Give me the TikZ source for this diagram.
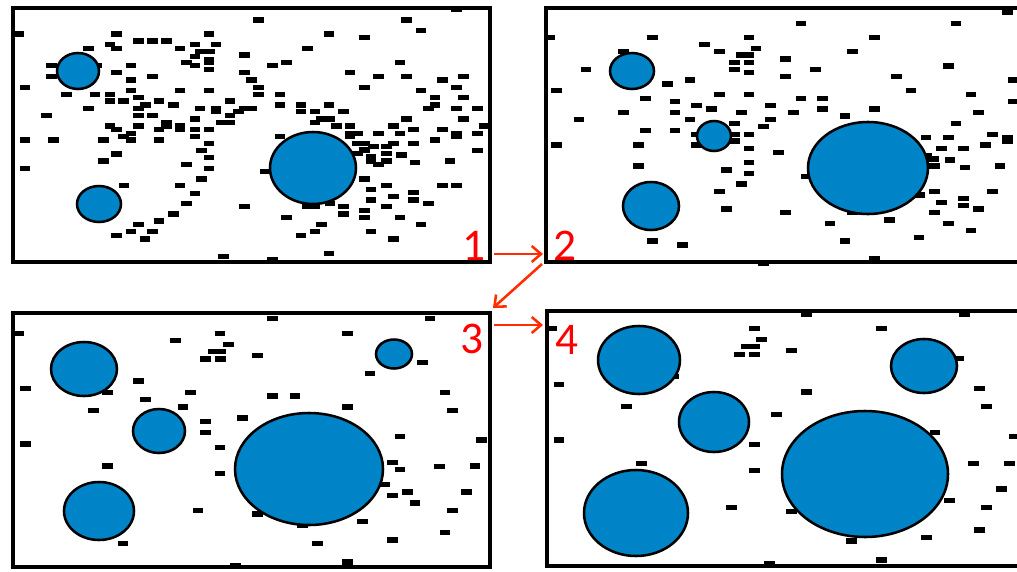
\documentclass[tikz,border=0pt]{standalone}
\usepackage{fontspec}
\setmainfont{Carlito}
\usetikzlibrary{arrows.meta}
\definecolor{cblue}{RGB}{0,132,200}
\definecolor{lred}{RGB}{255,0,0}
\definecolor{ared}{RGB}{255,45,0}
\newcommand\mydashes[3]{\foreach \a/\b in {#3} {\fill ({\a/3+#1-5.3},{\b/3+#2-2.6}) rectangle ++(10.6,5.2);}}
\tikzset{
  panel/.style={draw=black,line width=2.4pt},
  blob/.style={draw=black,line width=1.9pt,fill=cblue},
  lab/.style={text=lred,font=\fontsize{34}{34}\selectfont,inner sep=0pt},
  conn/.style={draw=ared,line width=1.9pt,-{Straight Barb[length=7pt,width=12pt,line width=1.9pt]}}
}
\begin{document}
\begin{tikzpicture}[x=0.75pt,y=-0.75pt]
\useasboundingbox (0,0) rectangle (1017,571);
\clip (0,0) rectangle (1017,571);
\fill[white] (0,0) rectangle (1017,571);
% ---------- panel 1 ----------
\mydashes{0}{0}{775/60,1220/60,1370/28,55/102,350/102,415/123,457/123,500/123,627/102,987/102,1093/112,1263/92,265/145,330/133,350/145,540/145,585/133,648/133,600/155,630/155,585/170,560/187,585/197,627/180,627/187,627/208,733/165,923/145,155/197,155/230,290/197,393/197,350/218,457/230,733/218,818/197,860/187,1050/218,1135/230,1200/187,1220/230,1327/240,1390/230,75/262,393/240,755/240,1093/262,1263/272,1370/262,200/283,285/283,330/283,393/272,540/272,627/272,775/262,775/283,840/283,1305/293,1390/293,330/303,370/303,415/293,477/303,520/315,690/303,265/325,140/347,415/325,437/315,600/325,648/325,648/335,715/335,733/325,755/325,840/315,903/315,945/335,987/315,1030/335,903/335,1285/325,1305/315,1370/325,1432/325,415/347,457/347,690/347,585/357,945/367,965/357,990/357,1220/357,1390/357,330/378,415/378,477/388,500/367,500/378,540/378,540/388,585/388,627/388,665/367,690/367,1010/378,1050/378,1180/378,1240/388,1327/388,1453/378,350/388,370/410,393/400,393/420,75/420,160/420,310/420,477/420,585/410,627/430,840/410,1050/400,1073/400,1135/400,1200/400,1050/410,1370/400,1370/410,1432/400,1305/420,1073/430,1093/430,1120/440,1160/440,1180/430,1240/430,1093/450,1073/460,1113/470,1160/460,1205/465,1113/483,1135/493,1160/483,1245/487,1350/483,1432/452,605/452,627/473,350/462,310/483,75/505,560/493,627/505,797/515,1093/537,605/537,372/557,540/557,1113/568,1160/557,1327/557,1370/557,585/580,1240/578,1180/590,1240/600,1113/600,1285/610,560/610,733/620,923/620,945/620,990/610,1030/620,1093/632,1160/620,520/642,1030/642,1093/653,860/653,1200/653,477/663,415/673,965/673,1263/673,393/695,457/695,945/695,1113/695,350/707,435/717,903/707,1180/717,670/770,818/780,987/760}
\draw[blob] (78,71) ellipse [x radius=21,y radius=18];
\draw[blob] (99,204) ellipse [x radius=22,y radius=18];
\draw[blob] (313,168) ellipse [x radius=43,y radius=36];
\draw[panel] (13,8) rectangle (490,262);
% ---------- panel 2 ----------
\mydashes{540}{0}{783/70,1248/70,1403/37,30/112,338/112,627/112,1003/112,493/133,538/155,648/145,605/165,627/165,583/187,627/187,583/208,627/218,737/177,937/155,250/155,138/208,827/208,1225/198,1420/240,1070/230,737/230,450/240,383/252,50/272,1113/272,538/283,627/283,317/295,783/295,848/295,1293/283,1420/305,405/305,470/317,515/327,692/317,848/327,1003/327,250/338,405/338,605/338,760/338,1315/338,117/358,450/358,692/358,915/348,583/370,1248/370,670/380,317/392,405/392,470/403,583/403,627/403,1158/413,1225/413,1358/403,1403/413,1403/423,50/435,295/435,470/435,583/423,627/445,715/457,1205/445,1270/445,1337/435,1160/467,1180/477,1230/480,1183/498,1275/502,1380/498,627/488,295/498,560/510,627/520,800/530,605/552,538/575,1183/575,1358/575,1140/585,1205/607,1270/595,1270/617,1315/627,560/627,737/638,937/638,1183/638,1048/660,870/670,1225/670,1293/692,338/723,427/735,915/723,1137/713,670/790,1003/777}
\draw[blob] (632,71) ellipse [x radius=22,y radius=18];
\draw[blob] (714,136) ellipse [x radius=17,y radius=15];
\draw[blob] (651,206) ellipse [x radius=28,y radius=24];
\draw[blob] (868,168) ellipse [x radius=60,y radius=46];
\draw[panel] (546,8) rectangle (1040,262);
% ---------- panel 3 ----------
\mydashes{0}{300}{818/55,1290/55,55/100,660/100,1043/100,527/122,685/133,640/155,662/155,617/177,662/177,773/166,1268/188,1110/221,415/243,77/265,323/277,571/277,818/288,885/288,1335/277,437/298,1043/321,549/321,280/332,1357/332,728/354,617/365,617/398,1200/409,1445/420,77/432,660/442,323/498,660/520,1178/487,1200/509,1318/500,1425/498,1155/553,1223/576,1178/587,1400/576,1245/609,594/631,773/642,1357/631,1088/664,908/675,1335/697,369/731,953/731,1178/720,706/797,1043/786}
\draw[blob] (84,369) ellipse [x radius=33,y radius=27];
\draw[blob] (159,431) ellipse [x radius=26,y radius=22];
\draw[blob] (99,511) ellipse [x radius=35,y radius=29];
\draw[blob] (394,354) ellipse [x radius=18,y radius=14.5];
\draw[blob] (309,469) ellipse [x radius=74,y radius=56];
\draw[panel] (13,313) rectangle (490,567);
% ---------- panel 4 ----------
\mydashes{540}{300}{800/42,1273/42,35/85,643/85,1025/85,665/118,620/140,643/140,598/163,643/163,755/152,1255/175,400/230,57/253,800/276,1318/265,260/320,1340/320,710/343,1185/398,1423/410,57/420,643/433,305/490,643/512,1300/490,1408/490,1385/567,1228/601,575/623,755/635,1340/623,1318/690,1160/713,935/723,1025/780,688/792}
\draw[blob] (639,360) ellipse [x radius=41,y radius=34];
\draw[blob] (714,422) ellipse [x radius=35,y radius=30];
\draw[blob] (636,513) ellipse [x radius=52,y radius=43];
\draw[blob] (924,366) ellipse [x radius=33,y radius=27];
\draw[blob] (865,474) ellipse [x radius=83,y radius=63];
\draw[panel] (547,311) rectangle (1040,566);
% ---------- labels and arrows ----------
\node[lab] (l1) at (474,246) {1};
\node[lab] (l2) at (565,246) {2};
\node[lab] (l3) at (472,339) {3};
\node[lab] (l4) at (567,340) {4};
\coordinate (a1) at (494,254);
\coordinate (b2) at (543,254);
\coordinate (a2) at (542,264);
\coordinate (b3) at (493,308);
\coordinate (a3) at (494,325);
\coordinate (b4) at (543,325);
\draw[conn] (a1) -- (b2);
\draw[conn] (a2) -- (b3);
\draw[conn] (a3) -- (b4);
\end{tikzpicture}
\end{document}
